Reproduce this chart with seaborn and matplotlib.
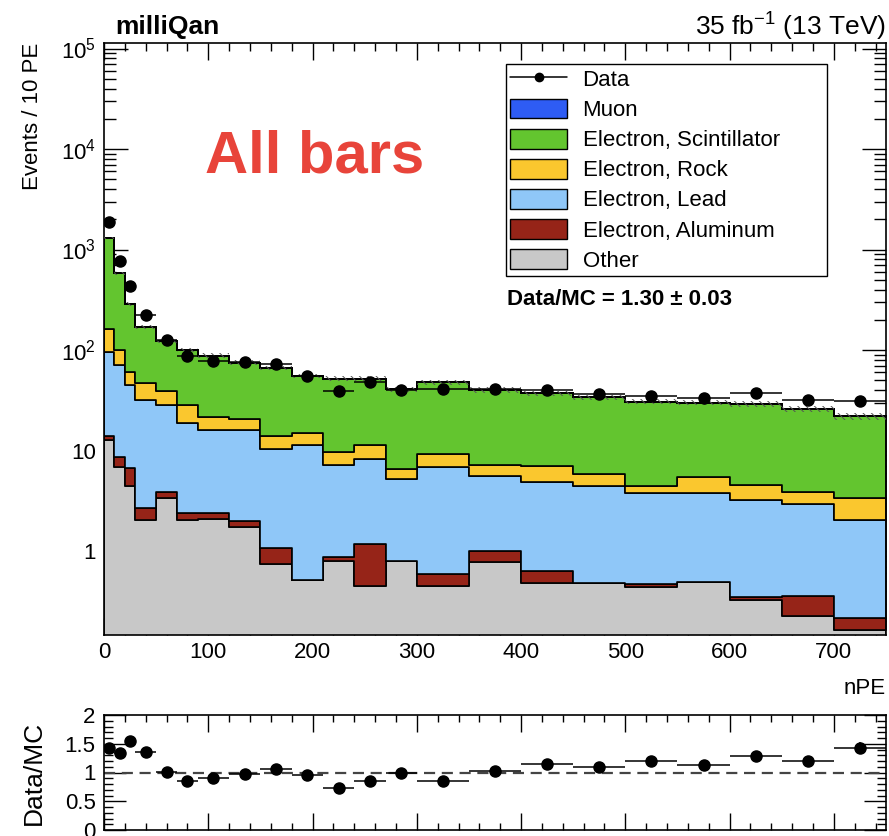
import numpy as np
import pandas as pd
import matplotlib
matplotlib.use("Agg")
import matplotlib.pyplot as plt
import seaborn as sns
from matplotlib.ticker import FixedLocator, MultipleLocator, LogLocator, NullFormatter, FuncFormatter
from matplotlib.patches import Patch
from matplotlib.lines import Line2D

# ---- binning (nPE) ----
bin_edges = [0, 10, 20, 30, 50, 70, 90, 120, 150, 180, 210, 240, 270,
             300, 350, 400, 450, 500, 550, 600, 650, 700, 750]

# ---- simulated components, events / 10 PE ----
muon = [0, 0, 0, 0, 0, 0, 0, 0, 0, 0, 0, 0, 0, 0, 0, 0, 0, 0, 0, 0, 0, 0]
e_scintillator = [1130, 480, 226, 124, 84, 71.6, 66.3, 54.6, 52.6, 40.5, 42.4,
                  40.7, 34.1, 38.5, 32.8, 30.0, 28.2, 26.1, 24.4, 24.5, 22.1, 18.7]
e_rock = [66, 29, 15.9, 14.8, 10.7, 9.5, 5.7, 4.4, 3.5, 3.7, 2.4,
          3.1, 1.3, 2.3, 1.6, 2.1, 1.33, 0.67, 1.7, 1.32, 0.95, 1.31]
e_lead = [82.1, 62.3, 38.2, 29.1, 24.6, 16.5, 13.6, 14.0, 9.34, 10.8, 6.32,
          7.03, 4.4, 6.31, 4.6, 4.27, 3.99, 3.33, 3.3, 2.87, 2.58, 1.82]
e_aluminum = [1.2, 1.8, 2.3, 0.63, 0.50, 0.34, 0.32, 0.27, 0.31, 0.0, 0.08,
              0.72, 0.0, 0.136, 0.22, 0.15, 0.0, 0.035, 0.0, 0.025, 0.135, 0.05]
other = [12.7, 6.9, 4.4, 2.03, 3.34, 2.03, 2.08, 1.72, 0.75, 0.52, 0.80,
         0.45, 0.795, 0.45, 0.78, 0.48, 0.48, 0.435, 0.495, 0.325, 0.225, 0.164]
# relative statistical uncertainty of the summed simulation
mc_rel_err = [0.02, 0.03, 0.04, 0.04, 0.05, 0.05, 0.05, 0.05, 0.05, 0.05, 0.05,
              0.05, 0.06, 0.05, 0.06, 0.06, 0.06, 0.06, 0.06, 0.07, 0.07, 0.08]

# ---- observed data ----
data = [1891, 769, 433, 223, 126, 87, 78, 76.5, 72, 55, 39.4,
        47.7, 40, 41.2, 41, 40, 36.3, 34.8, 33.5, 37.6, 31.8, 31.4]
data_err = [60, 28, 21, 11, 8, 7, 5.5, 5.5, 5, 4.5, 4,
            4.3, 4, 3, 3, 3, 2.8, 2.7, 2.6, 2.8, 2.6, 2.6]

# ---- data / MC ratio ----
ratio = [1.42, 1.345, 1.55, 1.36, 1.01, 0.85, 0.90, 0.97, 1.06, 0.96, 0.725,
         0.86, 0.985, 0.86, 1.03, 1.15, 1.10, 1.205, 1.13, 1.29, 1.205, 1.43]
ratio_err = [0.03, 0.04, 0.05, 0.04, 0.04, 0.05, 0.05, 0.05, 0.05, 0.06, 0.06,
             0.06, 0.07, 0.06, 0.07, 0.07, 0.08, 0.08, 0.08, 0.09, 0.09, 0.1]

sources = ["Muon", "Electron, Scintillator", "Electron, Rock",
           "Electron, Lead", "Electron, Aluminum", "Other"]
components = [muon, e_scintillator, e_rock, e_lead, e_aluminum, other]
colors = ["#2E5CF4", "#63C52F", "#FAC72E", "#8FC7F8", "#962418", "#C8C8C8"]
palette = dict(zip(sources, colors))

sns.set_style("ticks")
plt.rcParams["font.family"] = ["Liberation Sans", "DejaVu Sans"]
plt.rcParams["mathtext.fontset"] = "custom"
plt.rcParams["mathtext.rm"] = "Liberation Sans"
plt.rcParams["mathtext.it"] = "Liberation Sans:italic"
plt.rcParams["mathtext.bf"] = "Liberation Sans:bold"
plt.rcParams["axes.linewidth"] = 1.2
plt.rcParams["axes.edgecolor"] = "black"
plt.rcParams["text.color"] = "black"
plt.rcParams["axes.labelcolor"] = "black"
plt.rcParams["xtick.color"] = "black"
plt.rcParams["ytick.color"] = "black"
plt.rcParams["hatch.linewidth"] = 0.7

W, H = 889, 836
fig = plt.figure(figsize=(W / 100, H / 100), dpi=100)
ax = fig.add_axes([104 / W, 1 - 635 / H, 782 / W, 592 / H])
rax = fig.add_axes([104 / W, 1 - 830 / H, 782 / W, 115 / H])

edges = np.array(bin_edges, dtype=float)
centers = (edges[:-1] + edges[1:]) / 2
half = np.diff(edges) / 2

df = pd.concat(
    [pd.DataFrame({"nPE": centers, "events": vals, "source": name})
     for name, vals in zip(sources, components)],
    ignore_index=True,
)

# stacked MC histogram (last hue level ends up at the bottom of the stack)
sns.histplot(data=df, x="nPE", weights="events", hue="source",
             hue_order=sources, palette=palette, multiple="stack",
             bins=list(bin_edges), element="step", fill=True, alpha=1,
             edgecolor="black", linewidth=1.2, legend=False, ax=ax)

# hatched band for the simulation uncertainty on the total
mc_total = np.sum(np.array(components, dtype=float), axis=0)
rel = np.array(mc_rel_err)
band_lo = np.append(mc_total * (1 - rel), mc_total[-1] * (1 - rel[-1]))
band_hi = np.append(mc_total * (1 + rel), mc_total[-1] * (1 + rel[-1]))
ax.fill_between(edges, band_lo, band_hi, step="post", facecolor="none",
                edgecolor="#555555", hatch="\\\\\\\\", linewidth=0, zorder=3)

ax.errorbar(centers, data, xerr=half, yerr=data_err, fmt="o", color="black",
            ms=8, elinewidth=1.1, capsize=0, zorder=5)

ax.set_yscale("log")
ax.set_xlim(0, 750)
ax.set_ylim(0.146, 1.135e5)

ax.yaxis.set_major_locator(FixedLocator([1, 10, 100, 1e3, 1e4, 1e5]))
ax.yaxis.set_minor_locator(LogLocator(base=10, subs=np.arange(2, 10), numticks=30))
ax.yaxis.set_minor_formatter(NullFormatter())


def log_label(v, pos):
    e = int(round(np.log10(v)))
    if e == 0:
        return "1"
    if e == 1:
        return "10"
    return "$10^{%d}$" % e


ax.yaxis.set_major_formatter(FuncFormatter(log_label))
ax.xaxis.set_major_locator(MultipleLocator(100))
ax.xaxis.set_minor_locator(MultipleLocator(20))

for a in (ax, rax):
    a.tick_params(which="both", direction="in", top=True, right=True,
                  width=1.0, labelsize=16, color="black", labelcolor="black")
ax.tick_params(axis="y", which="major", length=17, pad=6)
ax.tick_params(axis="y", which="minor", length=8.5)
ax.tick_params(axis="x", which="major", length=12, pad=5)
ax.tick_params(axis="x", which="minor", length=6)

ax.set_ylabel("Events / 10 PE", loc="top", fontsize=16)
ax.yaxis.set_label_coords(-0.078, 1.0)
ax.set_xlabel("nPE", loc="right", fontsize=16)
ax.xaxis.set_label_coords(1.0, -0.072)

handles = [Line2D([], [], color="black", marker="o", ms=6, lw=1.1)]
handles += [Patch(facecolor=c, edgecolor="black", linewidth=1.0) for c in colors]
labels = ["Data"] + sources
leg = ax.legend(handles, labels, loc="upper left",
                bbox_to_anchor=(0.514, 0.598, 0.4105, 0.3666), mode="expand",
                borderaxespad=0, frameon=True, fancybox=False,
                edgecolor="black", framealpha=1, fontsize=16,
                handlelength=2.55, handleheight=1.0, labelspacing=0.34,
                handletextpad=0.7, borderpad=0.2)
leg.get_frame().set_linewidth(1.0)

ax.text(0.515, 0.567, "Data/MC = 1.30 ± 0.03", transform=ax.transAxes,
        fontsize=16, fontweight="bold", ha="left", va="center")
ax.text(0.129, 0.807, "All bars", transform=ax.transAxes, color="#E8443A",
        fontsize=43, fontweight="bold", ha="left", va="center")

fig.text(115 / W, 1 - 27 / H, "milliQan", fontsize=19, fontweight="bold",
         ha="left", va="center")
fig.text(886 / W, 1 - 27 / H, "35 fb$^{-1}$ (13 TeV)", fontsize=19,
         ha="right", va="center")

# ratio panel
rax.axhline(1, color="#444444", ls=(0, (5, 3)), lw=1.6, zorder=1)
rax.errorbar(centers, ratio, xerr=half, yerr=ratio_err, fmt="o", color="black",
             ms=8, elinewidth=1.1, capsize=0, zorder=5)
rax.set_xlim(0, 750)
rax.set_ylim(0, 2)
rax.xaxis.set_major_locator(MultipleLocator(100))
rax.xaxis.set_minor_locator(MultipleLocator(20))
rax.yaxis.set_major_locator(MultipleLocator(0.5))
rax.yaxis.set_minor_locator(MultipleLocator(0.1))
rax.yaxis.set_major_formatter(FuncFormatter(lambda v, p: "%g" % v))
rax.tick_params(axis="x", labelbottom=False)
rax.tick_params(axis="y", which="major", length=16, pad=6)
rax.tick_params(axis="y", which="minor", length=6.5)
rax.tick_params(axis="x", which="major", length=12)
rax.tick_params(axis="x", which="minor", length=5)
rax.set_xlabel("")
rax.set_ylabel("Data/MC", fontsize=19)
rax.yaxis.set_label_coords(-0.074, 0.5)

fig.savefig("out.png", dpi=100)
